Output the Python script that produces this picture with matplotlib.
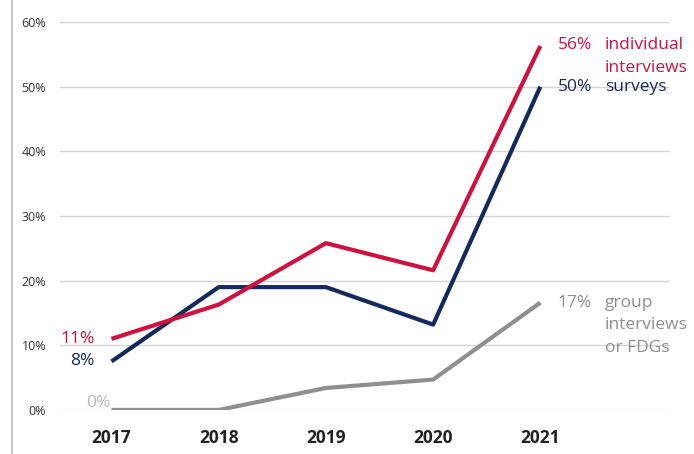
import matplotlib.pyplot as plt
from matplotlib.lines import Line2D

plt.rcParams['font.family'] = ['Open Sans', 'DejaVu Sans']

# ---------------- data ----------------
years = [2017, 2018, 2019, 2020, 2021]
individual = [11, 16.3, 25.8, 21.6, 56.3]
surveys = [7.5, 19, 19, 13.2, 50]
group = [0, 0, 3.4, 4.7, 16.6]
yticks = [0, 10, 20, 30, 40, 50, 60]

red = '#d0103f'
navy = '#142a5c'
grey = '#8f8f8f'

fig = plt.figure(figsize=(6.94, 4.54), dpi=100)
ax = fig.add_axes([0.0865, 0.097, 0.879, 0.8545])

ax.plot(years, group, color=grey, lw=3, solid_capstyle='butt', zorder=3)
ax.plot(years, surveys, color=navy, lw=3, solid_capstyle='butt', zorder=4)
ax.plot(years, individual, color=red, lw=3, solid_capstyle='butt', zorder=5)

ax.set_xlim(2016.52, 2022.21)
ax.set_ylim(0, 60)
ax.set_yticks(yticks)
ax.set_yticklabels(['%d%%' % v for v in yticks], fontsize=9, color='#333333')
ax.set_xticks(years)
ax.set_xticklabels([str(y) for y in years], fontsize=12.5, fontweight='bold', color='#222222')
ax.tick_params(axis='y', length=0, pad=10)
ax.tick_params(axis='x', length=0, pad=14)
ax.grid(axis='y', color='#d4d4d4', lw=1)
ax.set_axisbelow(True)
for s in ax.spines.values():
    s.set_visible(False)

fs = 12.5
# left labels
ax.text(2016.84, individual[0], '11%', color=red, fontsize=fs, ha='right', va='center')
ax.text(2016.84, surveys[0], '8%', color=navy, fontsize=fs, ha='right', va='center')
ax.text(2016.76, group[0] + 1.1, '0%', color='#b8b8b8', fontsize=fs, ha='left', va='center')

# right labels
x1, x2 = 2021.16, 2021.6
ax.text(x1, 56.4, '56%', color=red, fontsize=fs, va='center')
ax.text(x2, 56.4, 'individual', color=red, fontsize=fs, va='center')
ax.text(x2, 52.9, 'interviews', color=red, fontsize=fs, va='center')
ax.text(x1, 50, '50%', color=navy, fontsize=fs, va='center')
ax.text(x2, 50, 'surveys', color=navy, fontsize=fs, va='center')
ax.text(x1, 16.6, '17%', color=grey, fontsize=fs, va='center')
ax.text(x2, 16.6, 'group', color=grey, fontsize=fs, va='center')
ax.text(x2, 13.2, 'interviews', color=grey, fontsize=fs, va='center')
ax.text(x2, 9.6, 'or FDGs', color=grey, fontsize=fs, va='center')

fig.add_artist(Line2D([0.017, 0.017], [0, 1], color='#bbbbbb', lw=1.2))

fig.savefig('out.png', dpi=100)
